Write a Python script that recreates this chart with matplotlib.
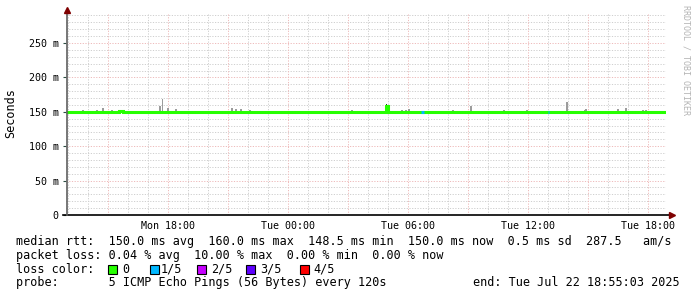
import datetime as dt

import matplotlib
matplotlib.use("Agg")
import matplotlib.pyplot as plt
import matplotlib.dates as mdates
from matplotlib.lines import Line2D
from matplotlib.patches import Rectangle
from matplotlib.ticker import FuncFormatter, MultipleLocator

W, H = 697, 297
MONO = "DejaVu Sans Mono"

# --- data -------------------------------------------------------------
end_time = dt.datetime(2025, 7, 22, 18, 55, 3)
start_time = end_time - dt.timedelta(hours=30)

# median rtt, step points (hours after start, ms)
median_hours = [0.0, 2.63, 2.83, 4.43, 4.53, 16.01, 16.08, 30.0]
median_ms = [150.0, 151.0, 150.0, 149.0, 150.0, 158.0, 150.0, 150.0]

# packet loss 1/5 stretches (start hour, end hour)
loss_start_hours = [17.72, 24.07]
loss_end_hours = [17.89, 24.15]

# smoke spikes above the median (hour, top ms)
smoke_hours = [0.84, 1.54, 1.84, 2.29, 4.69, 4.81, 5.09, 5.49, 6.09,
               8.29, 8.49, 8.74, 9.19, 14.29, 15.24, 16.01, 16.79, 16.99,
               17.14, 19.34, 20.24, 21.89, 23.04, 24.74, 24.84, 25.04,
               26.0, 25.94, 27.59, 27.99, 28.84, 28.98]
smoke_top_ms = [152.0, 152.0, 155.5, 152.0, 159.0, 169.0, 155.0, 154.0,
                151.5, 155.0, 154.0, 154.0, 153.0, 153.0, 151.5, 162.0,
                153.0, 153.0, 154.0, 153.0, 158.0, 152.0, 152.0, 151.5,
                151.5, 164.5, 154.0, 152.0, 154.0, 155.5, 153.0, 153.0]

legend_lines = [
    "median rtt:  150.0 ms avg  160.0 ms max  148.5 ms min  150.0 ms now  0.5 ms sd  287.5   am/s",
    "packet loss: 0.04 % avg  10.00 % max  0.00 % min  0.00 % now",
]
loss_labels = ["0", "1/5", "2/5", "3/5", "4/5"]
loss_colors = ["#26ff00", "#00b8ff", "#c600ff", "#5e00ff", "#ff0000"]
probe_text = "probe:       5 ICMP Echo Pings (56 Bytes) every 120s"
end_text = "end: Tue Jul 22 18:55:03 2025"


def at(h):
    return start_time + dt.timedelta(hours=h)


def fx(x):
    return x / W


def fy(y):
    return 1 - y / H


# --- figure -----------------------------------------------------------
fig = plt.figure(figsize=(W / 100, H / 100), dpi=100)
fig.patch.set_facecolor("white")
ax = fig.add_axes([fx(66.3), fy(215), 600 / W, 202 / H])
ax.set_xlim(start_time, end_time)
ax.set_ylim(0, 202 / 688)
for s in ax.spines.values():
    s.set_visible(False)

# grid, dotted
dot = (0, (1.2, 1.5))
grid_minor = "#d0d0d0"
grid_major = "#eebcbc"
y = 0.01
while y < 0.2935:
    major = round(y * 1000) % 50 == 0
    ax.axhline(y, color=grid_major if major else grid_minor, lw=0.72,
               ls=dot, zorder=1)
    y += 0.01
t = start_time.replace(minute=0, second=0) + dt.timedelta(hours=1)
while t < end_time:
    ax.axvline(t, color=grid_major if t.hour % 3 == 0 else grid_minor,
               lw=0.72, ls=dot, zorder=1)
    t += dt.timedelta(hours=1)

# smoke
bar_w = 5 / (24 * 60)
for h, top in zip(smoke_hours, smoke_top_ms):
    col = "#303030" if top == 162.0 else "#9c9c9c"
    ax.bar(mdates.date2num(at(h)), (top - 150) / 1000, bottom=0.150,
           width=bar_w, color=col, lw=0, zorder=2)

# median line
ax.step([at(h) for h in median_hours], [v / 1000 for v in median_ms],
        where="post", color=loss_colors[0], lw=2.2, zorder=3,
        solid_capstyle="butt", solid_joinstyle="miter")
for a, b in zip(loss_start_hours, loss_end_hours):
    ax.plot([at(a), at(b)], [0.150, 0.150], color=loss_colors[1], lw=2.2,
            zorder=4, solid_capstyle="butt")

# ticks
ax.yaxis.set_major_locator(MultipleLocator(0.05))
ax.yaxis.set_major_formatter(
    FuncFormatter(lambda v, p: "0" if v == 0 else "%d m" % round(v * 1000)))
ax.xaxis.set_major_locator(mdates.HourLocator(byhour=range(0, 24, 6)))
ax.xaxis.set_major_formatter(mdates.DateFormatter("%a %H:%M"))
ax.tick_params(axis="y", length=2, width=0.8, pad=3.5, colors="#2c4d43",
               labelcolor="black", labelsize=7.2)
ax.tick_params(axis="x", length=0, pad=4, labelcolor="black", labelsize=7.2)
for lab in ax.get_xticklabels() + ax.get_yticklabels():
    lab.set_family(MONO)

# axes and arrows
fig.add_artist(Line2D([fx(63), fx(670)], [fy(215), fy(215)],
                      transform=fig.transFigure, color="black", lw=1.2))
fig.add_artist(Line2D([fx(66.8), fx(66.8)], [fy(215), fy(12)],
                      transform=fig.transFigure, color="#606060", lw=1.2))
fig.add_artist(Line2D([fx(67)], [fy(9.5)], transform=fig.transFigure,
                      marker="^", ms=4.5, color="#7f0000", lw=0))
fig.add_artist(Line2D([fx(671.5)], [fy(215)], transform=fig.transFigure,
                      marker=">", ms=4.5, color="#7f0000", lw=0))

fig.text(fx(11), fy(113), "Seconds", rotation=90, ha="center",
         va="center", family=MONO, fontsize=8.5)
fig.text(fx(686), fy(60), "RRDTOOL / TOBI OETIKER", rotation=270,
         ha="center", va="center", family=MONO, fontsize=6,
         color="#b4b4b4")

# legend
rows = [241.5, 255.3, 269.1, 282.9]
for yy, line in zip(rows, legend_lines):
    fig.text(fx(16), fy(yy), line, family=MONO, fontsize=8.5,
             va="center", ha="left")
fig.text(fx(16), fy(rows[2]), "loss color:", family=MONO, fontsize=8.5,
         va="center", ha="left")
box_x = [108, 149.5, 197, 246, 299.5]
lab_x = [122, 161, 211, 260, 313.5]
for bx, lx, lab, col in zip(box_x, lab_x, loss_labels, loss_colors):
    fig.add_artist(Rectangle((fx(bx), fy(rows[2] + 4.5)), 9 / W, 9 / H,
                             transform=fig.transFigure, facecolor=col,
                             edgecolor="black", lw=0.8))
    fig.text(fx(lx), fy(rows[2]), lab, family=MONO, fontsize=8.5,
             va="center", ha="left")
fig.text(fx(16), fy(rows[3]), probe_text, family=MONO, fontsize=8.5,
         va="center", ha="left")
fig.text(fx(680), fy(rows[3]), end_text, family=MONO, fontsize=8.5,
         va="center", ha="right")

fig.savefig("out.png", dpi=100, facecolor="white")
